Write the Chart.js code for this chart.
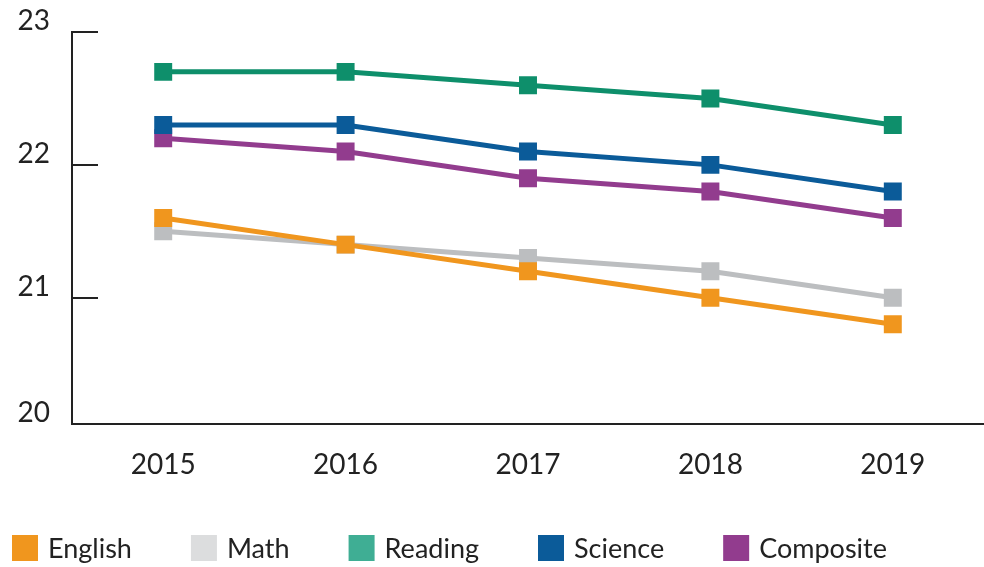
<!DOCTYPE html>
<html>
<head>
<meta charset="utf-8">
<script src="https://cdn.jsdelivr.net/npm/chart.js@4.4.1/dist/chart.umd.min.js"></script>
<style>
  html, body { margin: 0; padding: 0; background: #ffffff; }
  #wrap { width: 984px; height: 567px; position: relative; }
</style>
</head>
<body>
<div id="wrap"><canvas id="c"></canvas></div>
<script>
const years = ['2015', '2016', '2017', '2018', '2019'];
const english   = [21.6, 21.4, 21.2, 21.0, 20.8];
const math      = [21.5, 21.4, 21.3, 21.2, 21.0];
const reading   = [22.7, 22.7, 22.6, 22.5, 22.3];
const science   = [22.3, 22.3, 22.1, 22.0, 21.8];
const composite = [22.2, 22.1, 21.9, 21.8, 21.6];
const seriesNames = ['English', 'Math', 'Reading', 'Science', 'Composite'];
const yTickValues = [20.05, 21, 22, 23];
const yTickLabels = ['20', '21', '22', '23'];

const lineColors   = ['#F0961E', '#BCBEC0', '#0E8F6B', '#0B5B99', '#923C8E'];
const legendColors = ['#F0961E', '#DCDDDE', '#3FAE94', '#0B5B99', '#923C8E'];
const FONT = 'Lato, "Liberation Sans", sans-serif';
const TEXT = '#222222';

const seriesData = [english, math, reading, science, composite];
const datasets = seriesNames.map((name, i) => ({
  label: name,
  data: seriesData[i],
  borderColor: lineColors[i],
  backgroundColor: legendColors[i],
  pointBackgroundColor: lineColors[i],
  pointBorderWidth: 0,
  pointStyle: 'rect',
  pointRadius: 12.7,
  pointHoverRadius: 12.7,
  borderWidth: 5,
  tension: 0,
  fill: false
}));

const innerTicks = {
  id: 'innerTicks',
  afterDraw(chart) {
    const ctx = chart.ctx;
    const y = chart.scales.y;
    const left = chart.chartArea.left;
    ctx.save();
    ctx.strokeStyle = TEXT;
    ctx.lineWidth = 2;
    [21, 22, 23].forEach(v => {
      const py = Math.round(y.getPixelForValue(v));
      ctx.beginPath();
      ctx.moveTo(left, py);
      ctx.lineTo(left + 26, py);
      ctx.stroke();
    });
    ctx.restore();
  }
};

const customLegend = {
  id: 'customLegend',
  afterDraw(chart) {
    const ctx = chart.ctx;
    ctx.save();
    ctx.font = '27px ' + FONT;
    ctx.textBaseline = 'middle';
    ctx.textAlign = 'left';
    let x = 12;
    const yMid = 548;
    chart.data.datasets.forEach(ds => {
      ctx.fillStyle = ds.backgroundColor;
      ctx.fillRect(x, yMid - 13, 26, 26);
      x += 26 + 10;
      ctx.fillStyle = TEXT;
      ctx.fillText(ds.label, x, yMid + 1);
      x += ctx.measureText(ds.label).width + 59;
    });
    ctx.restore();
  }
};

new Chart(document.getElementById('c'), {
  type: 'line',
  data: { labels: years, datasets },
  options: {
    responsive: true,
    maintainAspectRatio: false,
    animation: false,
    layout: { autoPadding: false, padding: { top: 32, right: 0, bottom: 0, left: 0 } },
    plugins: {
      legend: { display: false },
      tooltip: { enabled: false }
    },
    scales: {
      x: {
        offset: true,
        grid: { display: false, drawTicks: false },
        border: { display: true, color: TEXT, width: 2 },
        ticks: { color: TEXT, font: { family: FONT, size: 28 }, padding: 24 },
        afterFit(scale) { scale.height = 143; scale.paddingLeft = 0; scale.paddingRight = 0; }
      },
      y: {
        min: 20.05,
        max: 23,
        grid: { display: false, drawTicks: false },
        border: { display: true, color: TEXT, width: 2 },
        afterBuildTicks(scale) { scale.ticks = yTickValues.map(v => ({ value: v })); },
        ticks: {
          color: TEXT,
          font: { family: FONT, size: 28 },
          padding: 22,
          labelOffset: -11,
          callback: (v) => yTickLabels[yTickValues.indexOf(v)]
        },
        afterFit(scale) { scale.width = 72; scale.paddingTop = 0; scale.paddingBottom = 0; }
      }
    }
  },
  plugins: [innerTicks, customLegend]
});
</script>
</body>
</html>
